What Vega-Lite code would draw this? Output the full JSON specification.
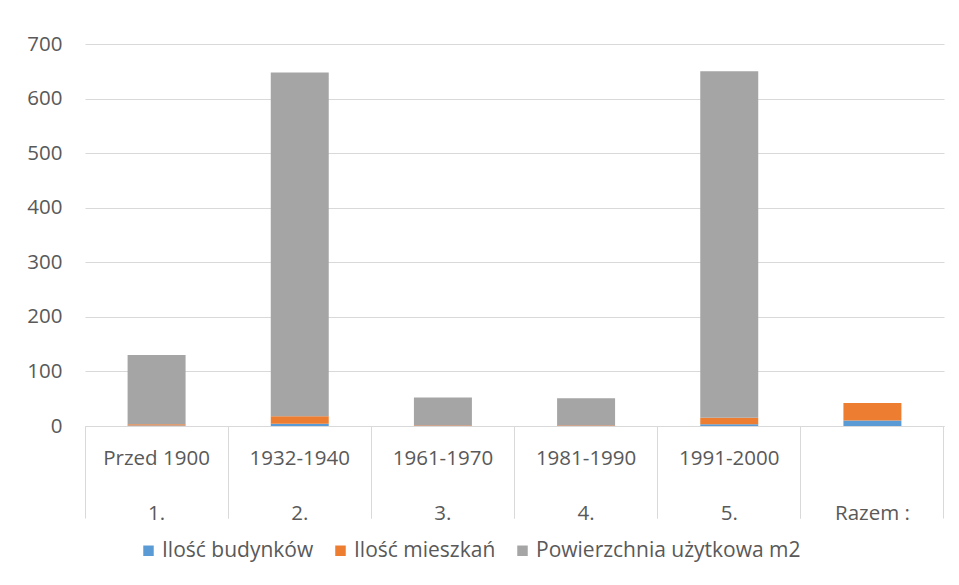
{
  "$schema": "https://vega.github.io/schema/vega-lite/v6.json",
  "width": 859,
  "height": 382,
  "autosize": {"type": "none"},
  "padding": {"left": 85, "top": 44, "right": 15, "bottom": 159},
  "background": "white",
  "config": {
    "view": {"stroke": null},
    "font": "Open Sans",
    "axis": {"labelFont": "Open Sans", "labelColor": "#595959", "labelFontSize": 20.5, "gridColor": "#d9d9d9", "domainColor": "#d9d9d9", "tickColor": "#d9d9d9"},
    "legend": {"labelFont": "Open Sans", "labelColor": "#595959", "labelFontSize": 21}
  },
  "data": {
    "values": [
      {"kat": "Przed 1900|1.", "seria": "Ilość budynków", "wartosc": 1},
      {"kat": "Przed 1900|1.", "seria": "Ilość mieszkań", "wartosc": 2},
      {"kat": "Przed 1900|1.", "seria": "Powierzchnia użytkowa  m2", "wartosc": 127},
      {"kat": "1932-1940|2.", "seria": "Ilość budynków", "wartosc": 4},
      {"kat": "1932-1940|2.", "seria": "Ilość mieszkań", "wartosc": 14},
      {"kat": "1932-1940|2.", "seria": "Powierzchnia użytkowa  m2", "wartosc": 630},
      {"kat": "1961-1970|3.", "seria": "Ilość budynków", "wartosc": 1},
      {"kat": "1961-1970|3.", "seria": "Ilość mieszkań", "wartosc": 1},
      {"kat": "1961-1970|3.", "seria": "Powierzchnia użytkowa  m2", "wartosc": 50},
      {"kat": "1981-1990|4.", "seria": "Ilość budynków", "wartosc": 1},
      {"kat": "1981-1990|4.", "seria": "Ilość mieszkań", "wartosc": 1},
      {"kat": "1981-1990|4.", "seria": "Powierzchnia użytkowa  m2", "wartosc": 49},
      {"kat": "1991-2000|5.", "seria": "Ilość budynków", "wartosc": 3},
      {"kat": "1991-2000|5.", "seria": "Ilość mieszkań", "wartosc": 12},
      {"kat": "1991-2000|5.", "seria": "Powierzchnia użytkowa  m2", "wartosc": 635},
      {"kat": "|Razem :", "seria": "Ilość budynków", "wartosc": 10},
      {"kat": "|Razem :", "seria": "Ilość mieszkań", "wartosc": 32},
      {"kat": "|Razem :", "seria": "Powierzchnia użytkowa  m2", "wartosc": 0}
    ]
  },
  "layer": [
    {
      "mark": {"type": "bar", "width": {"band": 0.405}},
      "encoding": {
        "x": {
          "field": "kat", "type": "nominal", "sort": null,
          "scale": {"paddingInner": 0, "paddingOuter": 0},
          "axis": {
            "title": null, "labelAngle": 0, "bandPosition": 0,
            "tickSize": 92, "labelPadding": -60, "labelBaseline": "middle",
            "labelLineHeight": 55, "labelExpr": "split(datum.label, '|')",
            "grid": false
          }
        },
        "y": {
          "field": "wartosc", "type": "quantitative", "stack": "zero",
          "scale": {"domain": [0, 700]},
          "axis": {"title": null, "values": [0, 100, 200, 300, 400, 500, 600, 700], "ticks": false, "domain": false, "labelPadding": 23}
        },
        "order": {"field": "seria", "sort": "ascending"},
        "color": {
          "field": "seria", "type": "nominal",
          "scale": {"domain": ["Ilość budynków", "Ilość mieszkań", "Powierzchnia użytkowa  m2"], "range": ["#5b9bd5", "#ed7d31", "#a5a5a5"]},
          "legend": {"title": null, "orient": "none", "legendX": 53, "legendY": 496, "direction": "horizontal", "symbolType": "square", "symbolSize": 110, "symbolStrokeWidth": 0, "labelOffset": 3, "columnPadding": 16, "labelLimit": 400}
        }
      }
    },
    {
      "mark": {"type": "bar", "opacity": 0},
      "encoding": {
        "x": {
          "field": "kat", "type": "nominal", "sort": null,
          "axis": {"title": null, "bandPosition": 1, "tickSize": 92, "labels": false, "domain": false, "grid": false, "orient": "bottom"}
        }
      }
    }
  ],
  "resolve": {"axis": {"x": "independent"}}
}
